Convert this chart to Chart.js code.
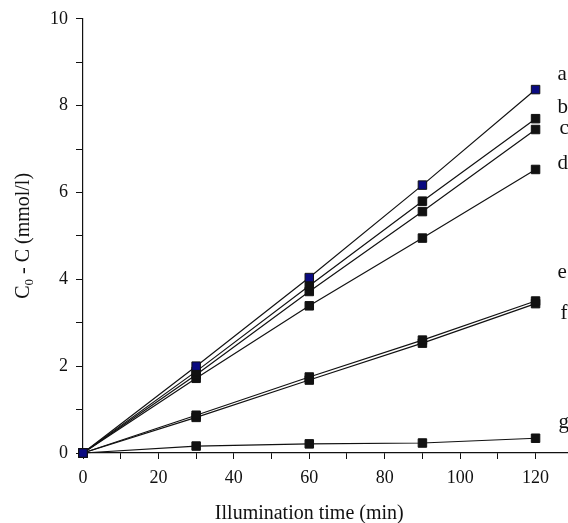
<!DOCTYPE html>
<html>
<head>
<meta charset="utf-8">
<script src="https://cdn.jsdelivr.net/npm/chart.js@4.4.0/dist/chart.umd.min.js"></script>
<style>
  html, body { margin: 0; padding: 0; background: #fff; }
  #wrap { width: 568px; height: 523px; }
</style>
</head>
<body>
<div id="wrap"><canvas id="photoChart" width="568" height="523"></canvas></div>
<script>
// illumination times (min)
const times = [0, 30, 60, 90, 120];

// C0 - C (mmol/l) for each curve
const seriesNames = ['a', 'b', 'c', 'd', 'e', 'f', 'g'];
const seriesA = [0, 2.00, 4.04, 6.17, 8.37];
const seriesB = [0, 1.88, 3.85, 5.80, 7.70];
const seriesC = [0, 1.80, 3.72, 5.56, 7.45];
const seriesD = [0, 1.72, 3.39, 4.95, 6.53];
const seriesE = [0, 0.87, 1.75, 2.60, 3.50];
const seriesF = [0, 0.82, 1.68, 2.53, 3.44];
const seriesG = [0, 0.16, 0.21, 0.23, 0.34];

const xTickLabels = ['0', '20', '40', '60', '80', '100', '120'];
const yTickLabels = ['0', '2', '4', '6', '8', '10'];

const SERIF = '"Liberation Serif", "Times New Roman", serif';

// where the curve letters sit relative to the last point of each curve
const letterOffsets = {
    a: { dx: 22, dy: -10 },
    b: { dx: 22, dy: -6 },
    c: { dx: 24, dy: 4 },
    d: { dx: 22, dy: 0 },
    e: { dx: 22, dy: -23 },
    f: { dx: 25, dy: 15 },
    g: { dx: 23, dy: -10 }
};

function makeDataset(name, values, fill) {
    return {
        label: name,
        data: times.map((t, i) => ({ x: t, y: values[i] })),
        borderColor: '#111',
        borderWidth: 1.2,
        pointStyle: 'rect',
        pointRadius: 6,
        pointHoverRadius: 6,
        pointBackgroundColor: fill,
        pointBorderColor: '#111',
        pointBorderWidth: 1,
        tension: 0,
        fill: false,
        clip: false
    };
}

// axis titles and curve letters
const annotations = {
    id: 'annotations',
    afterDraw(chart) {
        const ctx = chart.ctx;
        const xs = chart.scales.x;
        const ys = chart.scales.y;
        ctx.save();
        ctx.fillStyle = '#111';

        // x title, centred under 0..120
        ctx.font = '20px ' + SERIF;
        ctx.textAlign = 'center';
        ctx.textBaseline = 'alphabetic';
        ctx.fillText('Illumination time (min)', xs.getPixelForValue(60), 519);

        // y title with subscript
        ctx.translate(29, (ys.top + ys.bottom) / 2);
        ctx.rotate(-Math.PI / 2);
        ctx.textAlign = 'left';
        const big = '20px ' + SERIF;
        const small = '13px ' + SERIF;
        ctx.font = big;
        const wC = ctx.measureText('C').width;
        const wRest = ctx.measureText(' - C (mmol/l)').width;
        ctx.font = small;
        const wSub = ctx.measureText('0').width;
        let x0 = -(wC + wSub + wRest) / 2;
        ctx.font = big;
        ctx.fillText('C', x0, 0);
        ctx.font = small;
        ctx.fillText('0', x0 + wC, 4);
        ctx.font = big;
        ctx.fillText(' - C (mmol/l)', x0 + wC + wSub, 0);
        ctx.restore();

        // curve letters
        ctx.save();
        ctx.fillStyle = '#111';
        ctx.font = '21px ' + SERIF;
        ctx.textAlign = 'left';
        ctx.textBaseline = 'alphabetic';
        chart.data.datasets.forEach((ds) => {
            const last = ds.data[ds.data.length - 1];
            const off = letterOffsets[ds.label];
            ctx.fillText(ds.label, xs.getPixelForValue(last.x) + off.dx, ys.getPixelForValue(last.y) + off.dy);
        });
        ctx.restore();
    }
};

const allSeries = [seriesA, seriesB, seriesC, seriesD, seriesE, seriesF, seriesG];

new Chart(document.getElementById('photoChart'), {
    type: 'line',
    data: {
        datasets: allSeries.map((vals, i) =>
            makeDataset(seriesNames[i], vals, i === 0 ? '#0a0a80' : '#111'))
    },
    options: {
        responsive: false,
        animation: false,
        layout: {
            autoPadding: false,
            padding: { left: 0, right: 0, top: 17, bottom: 0 }
        },
        plugins: {
            legend: { display: false },
            tooltip: { enabled: false }
        },
        scales: {
            x: {
                type: 'linear',
                min: 0,
                max: 128.6,
                afterFit(scale) {
                    scale.height = 70;
                    scale.paddingRight = 0;
                },
                afterBuildTicks(scale) {
                    // ticks every 10 min, labels every 20
                    const t = [];
                    for (let v = 0; v <= 120; v += 10) t.push({ value: v });
                    scale.ticks = t;
                },
                ticks: {
                    autoSkip: false,
                    maxRotation: 0,
                    padding: 8,
                    color: '#111',
                    font: { family: SERIF, size: 18 },
                    callback: (v) => (v % 20 === 0 ? xTickLabels[v / 20] : '')
                },
                grid: {
                    display: true,
                    drawOnChartArea: false,
                    drawTicks: true,
                    tickLength: 6,
                    color: '#111',
                    lineWidth: 1
                },
                border: { display: true, color: '#111', width: 1.2 }
            },
            y: {
                type: 'linear',
                min: 0,
                max: 10,
                afterFit(scale) { scale.width = 83; },
                ticks: {
                    stepSize: 1,
                    autoSkip: false,
                    padding: 8,
                    color: '#111',
                    font: { family: SERIF, size: 18 },
                    callback: (v) => (v % 2 === 0 ? yTickLabels[v / 2] : '')
                },
                grid: {
                    display: true,
                    drawOnChartArea: false,
                    drawTicks: true,
                    tickLength: 7,
                    color: '#111',
                    lineWidth: 1
                },
                border: { display: true, color: '#111', width: 1.2 }
            }
        }
    },
    plugins: [annotations]
});
</script>
</body>
</html>
